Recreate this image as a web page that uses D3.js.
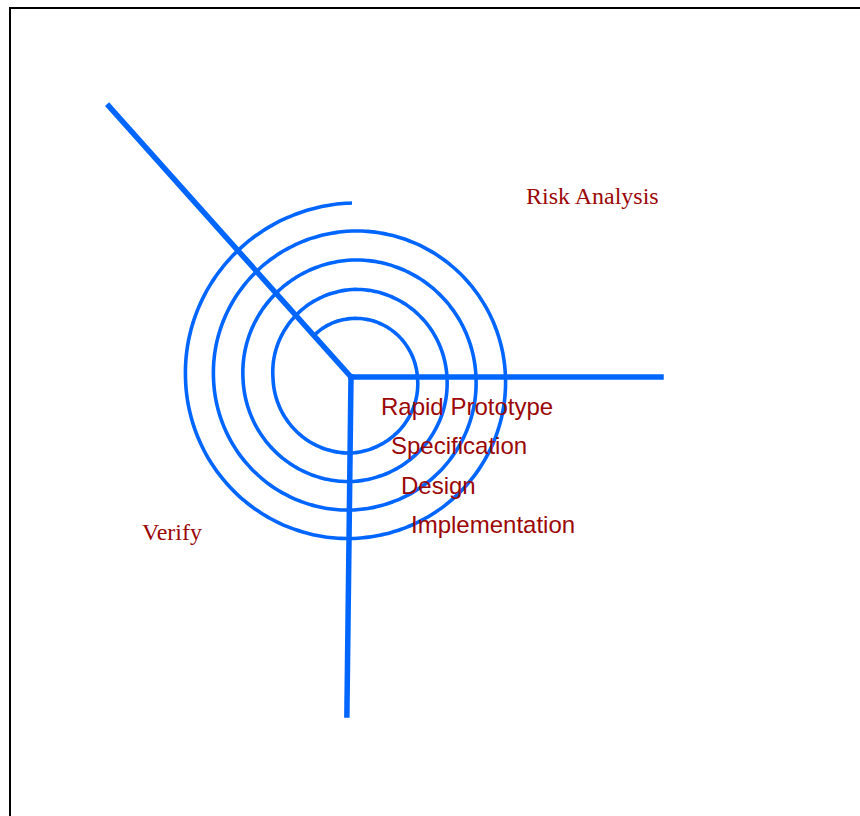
<!DOCTYPE html>
<html>
<head>
<meta charset="utf-8">
<script src="https://cdn.jsdelivr.net/npm/d3@7/dist/d3.min.js"></script>
<style>
  html, body { margin: 0; padding: 0; background: #fff; }
  svg { display: block; }
</style>
</head>
<body>
<div id="chart"></div>
<script>
// ---- data ----
// spiral: angle (degrees, clockwise from 12 o'clock) and radius (px)
const spiralAngles = [-42, 0, 90, 180, 270, 360, 450, 540, 630, 720, 810, 900, 990, 1080, 1170, 1260, 1350, 1440];
const spiralRadii  = [57, 59.5, 65.5, 75, 79, 88.5, 95, 103.5, 109, 118, 124, 132, 138.5, 147, 153.5, 160.5, 166.5, 175];
// the three axes: direction (degrees) and length (px)
const axisAngles  = [-41.8, 90, 180.7];
const axisLengths = [366, 310, 338];
// phase labels placed along the spiral, and quadrant labels
const phaseLabels = ["Rapid Prototype", "Specification", "Design", "Implementation"];
const quadrantLabels = ["Risk Analysis", "Verify"];

// ---- layout ----
const W = 860, H = 816;
const center = [351, 377];
const blue = "#0066ff";
const red = "#9b0606";

const svg = d3.select("#chart").append("svg")
  .attr("width", W).attr("height", H);

// frame
svg.append("rect")
  .attr("x", 10).attr("y", 8)
  .attr("width", W).attr("height", H)
  .attr("fill", "none").attr("stroke", "#000").attr("stroke-width", 2);

const ang = d => d * Math.PI / 180;
// radius as a function of angle, piecewise between the measured points (polar space)
const radiusAt = d3.scaleLinear().domain(spiralAngles).range(spiralRadii);

const g = svg.append("g").attr("transform", `translate(${center[0]},${center[1]})`);

// spiral
const samples = d3.range(spiralAngles[0], spiralAngles[spiralAngles.length - 1] + 0.001, 2);
const spiralLine = d3.lineRadial()
  .angle(d => ang(d))
  .radius(d => radiusAt(d))
  .curve(d3.curveCatmullRom);
g.append("path")
  .attr("d", spiralLine(samples))
  .attr("transform", "translate(1,1)")
  .attr("fill", "none").attr("stroke", blue).attr("stroke-width", 3.6);

// axes
const axisLine = d3.lineRadial();
axisAngles.forEach((a, i) => {
  g.append("path")
    .attr("d", axisLine([[ang(a), 0], [ang(a), axisLengths[i]]]))
    .attr("fill", "none").attr("stroke", blue).attr("stroke-width", 5.5)
    .attr("stroke-linecap", i === 0 ? "butt" : "square");
});

// phase labels
const phaseX = d3.scaleLinear().domain([0, 3]).range([381, 411]);
const phaseY = d3.scaleLinear().domain([0, 3]).range([415, 533]);
svg.selectAll("text.phase").data(phaseLabels).enter().append("text")
  .attr("class", "phase")
  .attr("x", (d, i) => phaseX(i))
  .attr("y", (d, i) => phaseY(i))
  .attr("fill", red)
  .attr("font-family", "'Liberation Sans', Arial, sans-serif")
  .attr("font-size", 24)
  .text(d => d);

// quadrant labels
const quadPos = [[526, 204], [142, 540]];
svg.selectAll("text.quad").data(quadrantLabels).enter().append("text")
  .attr("class", "quad")
  .attr("x", (d, i) => quadPos[i][0])
  .attr("y", (d, i) => quadPos[i][1])
  .attr("fill", red)
  .attr("font-family", "'Liberation Serif', 'Times New Roman', serif")
  .attr("font-size", 24)
  .text(d => d);
</script>
</body>
</html>
